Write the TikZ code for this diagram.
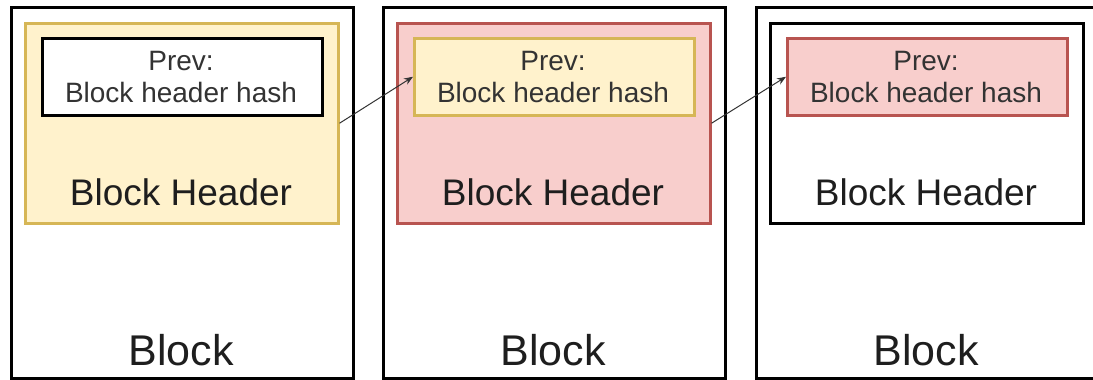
\documentclass[tikz,border=0pt]{standalone}
\usepackage{fontspec}
\setmainfont{Liberation Sans}
\usetikzlibrary{arrows.meta}
\definecolor{creamfill}{HTML}{FFF2CC}
\definecolor{creamline}{HTML}{D6B656}
\definecolor{rosefill}{HTML}{F8CECC}
\definecolor{roseline}{HTML}{B85450}
\definecolor{inkdark}{HTML}{1E1E1E}
\definecolor{inksoft}{HTML}{333333}
\begin{document}
\begin{tikzpicture}[x=1pt,y=-1pt,
  blockbox/.style={draw=black, line width=3pt, fill=white, inner sep=0pt,
    anchor=north west, minimum width=342pt, minimum height=371pt},
  hdrbox/.style={line width=2.5pt, inner sep=0pt, anchor=north west,
    minimum width=313pt, minimum height=200pt},
  prevbox/.style={line width=2.5pt, inner sep=0pt, anchor=north west,
    minimum width=280pt, minimum height=77pt},
  prevtext/.style={anchor=base, inner sep=0pt, text=inksoft,
    font=\fontsize{28}{32}\selectfont},
  hdrtext/.style={anchor=base, inner sep=0pt, text=inkdark,
    font=\fontsize{37}{42}\selectfont},
  blktext/.style={anchor=base, inner sep=0pt, text=inkdark,
    font=\fontsize{43}{48}\selectfont},
  link/.style={draw=inksoft, line width=1pt, -{Stealth[length=9pt,width=7pt]}}
]
\useasboundingbox (0,0) rectangle (1093,380);
\clip (0,0) rectangle (1093,380);

% three chained blocks: header colours, then the colours of the back-link field
\foreach \i/\x/\hf/\hd/\pf/\pd in {
    1/10/creamfill/creamline/white/black,
    2/382/rosefill/roseline/creamfill/creamline,
    3/755/white/black/rosefill/roseline} {
  \node[blockbox] (blk\i) at (\x,6) {};
  \node[hdrbox, fill=\hf, draw=\hd] (hdr\i) at ({\x+14},22) {};
  \node[prevbox, fill=\pf, draw=\pd] (prev\i) at ({\x+31},37) {};
  \node[prevtext] (prevlbl\i) at ({\x+171},70) {Prev:};
  \node[prevtext] (hashlbl\i) at ({\x+171},102) {Block header hash};
  \node[hdrtext] (hdrlbl\i) at ({\x+171},205) {Block Header};
  \node[blktext] (blklbl\i) at ({\x+171},365) {Block};
}

% each header is referenced by the next block's "Prev" field
\draw[link] (hdr1.east) -- (prev2.west);
\draw[link] (hdr2.east) -- (prev3.west);
\end{tikzpicture}
\end{document}
